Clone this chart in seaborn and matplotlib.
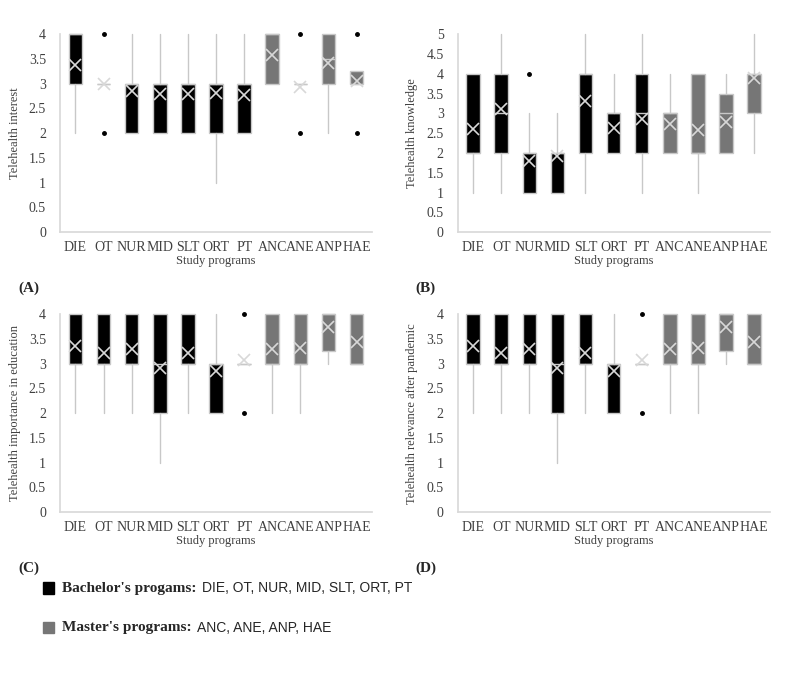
import matplotlib
matplotlib.use("Agg")
import matplotlib.pyplot as plt
import seaborn as sns

sns.set_theme(style="white")
plt.rcParams["font.family"] = "Liberation Serif"

PROGRAMS = ["DIE", "OT", "NUR", "MID", "SLT", "ORT", "PT", "ANC", "ANE", "ANP", "HAE"]
MASTER = ["ANC", "ANE", "ANP", "HAE"]

# (q1, median, q3, whisker low, whisker high, mean, outliers) por programa
INTEREST_Q1 = [3, 3, 2, 2, 2, 2, 2, 3, 3, 3, 3]
INTEREST_MED = [4, 3, 3, 3, 3, 3, 3, 4, 3, 3.5, 3]
INTEREST_Q3 = [4, 3, 3, 3, 3, 3, 3, 4, 3, 4, 3.25]
INTEREST_LO = [2, 3, 2, 2, 2, 1, 2, 3, 3, 2, 3]
INTEREST_HI = [4, 3, 4, 4, 4, 4, 4, 4, 3, 4, 3.25]
INTEREST_MEAN = [3.37, 3.0, 2.86, 2.8, 2.79, 2.81, 2.78, 3.57, 2.93, 3.42, 3.05]
INTEREST_OUT = [[], [2, 4], [], [], [], [], [], [], [2, 4], [], [2, 4]]

KNOW_Q1 = [2, 2, 1, 1, 2, 2, 2, 2, 2, 2, 3]
KNOW_MED = [2, 3, 2, 2, 4, 3, 3, 3, 2, 3, 4]
KNOW_Q3 = [4, 4, 2, 2, 4, 3, 4, 3, 4, 3.5, 4]
KNOW_LO = [1, 1, 1, 1, 1, 2, 1, 2, 1, 2, 2]
KNOW_HI = [4, 5, 3, 3, 5, 4, 5, 4, 4, 4, 5]
KNOW_MEAN = [2.6, 3.1, 1.8, 1.92, 3.3, 2.62, 2.87, 2.72, 2.57, 2.77, 3.9]
KNOW_OUT = [[], [], [4], [], [], [], [], [], [], [], []]

EDU_Q1 = [3, 3, 3, 2, 3, 2, 3, 3, 3, 3.25, 3]
EDU_MED = [3, 3, 3, 3, 3, 3, 3, 3, 3, 4, 3]
EDU_Q3 = [4, 4, 4, 4, 4, 3, 3, 4, 4, 4, 4]
EDU_LO = [2, 2, 2, 1, 2, 2, 3, 2, 2, 3, 3]
EDU_HI = [4, 4, 4, 4, 4, 4, 3, 4, 4, 4, 4]
EDU_MEAN = [3.35, 3.22, 3.29, 2.91, 3.21, 2.86, 3.07, 3.29, 3.32, 3.75, 3.43]
EDU_OUT = [[], [], [], [], [], [], [2, 4], [], [], [], []]

REL_Q1 = [3, 3, 3, 2, 3, 2, 3, 3, 3, 3.25, 3]
REL_MED = [3, 3, 3, 3, 3, 3, 3, 3, 3, 4, 3]
REL_Q3 = [4, 4, 4, 4, 4, 3, 3, 4, 4, 4, 4]
REL_LO = [2, 2, 2, 1, 2, 2, 3, 2, 2, 3, 3]
REL_HI = [4, 4, 4, 4, 4, 4, 3, 4, 4, 4, 4]
REL_MEAN = [3.35, 3.22, 3.29, 2.91, 3.21, 2.86, 3.07, 3.29, 3.32, 3.75, 3.43]
REL_OUT = [[], [], [], [], [], [], [2, 4], [], [], [], []]

GRID = "#c8c8c8"


def painel(ax, q1, med, q3, lo, hi, mean, out, ylabel, ymax, letra):
    stats = []
    for i, p in enumerate(PROGRAMS):
        stats.append(dict(label=p, q1=q1[i], med=med[i], q3=q3[i],
                          whislo=lo[i], whishi=hi[i], mean=mean[i], fliers=out[i]))
    res = ax.bxp(stats, widths=0.48, patch_artist=True, showmeans=True,
                 showcaps=False,
                 boxprops=dict(edgecolor=GRID, linewidth=1),
                 whiskerprops=dict(color=GRID, linewidth=1),
                 medianprops=dict(color=GRID, linewidth=1),
                 meanprops=dict(marker="x", markeredgecolor="#d8d8d8", markersize=8, markeredgewidth=1.2),
                 flierprops=dict(marker="o", markerfacecolor="black", markeredgecolor="black", markersize=2.5))
    for box, p in zip(res["boxes"], PROGRAMS):
        box.set_facecolor("#767676" if p in MASTER else "black")
    for art in res["boxes"] + res["whiskers"] + res["medians"] + res["fliers"] + res["means"]:
        art.set_clip_on(False)
    ax.set_xlim(0.45, 11.55)
    ax.set_ylim(0, ymax)
    ax.set_yticks([i * 0.5 for i in range(int(ymax * 2) + 1)])
    ax.set_yticklabels([f"{i * 0.5:g}" for i in range(int(ymax * 2) + 1)])
    for s in ["top", "right"]:
        ax.spines[s].set_visible(False)
    for s in ["left", "bottom"]:
        ax.spines[s].set_color("#d9d9d9")
    ax.tick_params(axis="both", colors="#404040", labelsize=10, length=0)
    ax.tick_params(axis="y", pad=10)
    ax.tick_params(axis="x", pad=6)
    ax.set_ylabel(ylabel, fontsize=9, color="#404040", labelpad=6)
    ax.set_xlabel("Study programs", fontsize=9, color="#404040", labelpad=1)
    ax.text(-0.135, -0.3, letra, transform=ax.transAxes, fontsize=11, fontweight="bold")


fig = plt.figure(figsize=(8, 6.83), dpi=100)
axA = fig.add_axes([0.075, 0.66, 0.39, 0.29])
axB = fig.add_axes([0.572, 0.66, 0.39, 0.29])
axC = fig.add_axes([0.075, 0.25, 0.39, 0.29])
axD = fig.add_axes([0.572, 0.25, 0.39, 0.29])

painel(axA, INTEREST_Q1, INTEREST_MED, INTEREST_Q3, INTEREST_LO, INTEREST_HI, INTEREST_MEAN, INTEREST_OUT,
       "Telehealth interest", 4, "(A)")
painel(axB, KNOW_Q1, KNOW_MED, KNOW_Q3, KNOW_LO, KNOW_HI, KNOW_MEAN, KNOW_OUT,
       "Telehealth knowledge", 5, "(B)")
painel(axC, EDU_Q1, EDU_MED, EDU_Q3, EDU_LO, EDU_HI, EDU_MEAN, EDU_OUT,
       "Telehealth importance in education", 4, "(C)")
painel(axD, REL_Q1, REL_MED, REL_Q3, REL_LO, REL_HI, REL_MEAN, REL_OUT,
       "Telehealth relevance after pandemic", 4, "(D)")

# legenda
fig.patches.append(plt.Rectangle((0.054, 0.131), 0.014, 0.017, color="black", transform=fig.transFigure))
fig.patches.append(plt.Rectangle((0.054, 0.073), 0.014, 0.017, color="#767676", transform=fig.transFigure))
renderer = fig.canvas.get_renderer()
for y, bold, resto in [(0.139, "Bachelor's progams:", "DIE, OT, NUR, MID, SLT, ORT, PT"),
                       (0.081, "Master's programs:", "ANC, ANE, ANP, HAE")]:
    t = fig.text(0.078, y, bold, fontsize=11, fontweight="bold", va="center")
    bb = t.get_window_extent(renderer).transformed(fig.transFigure.inverted())
    fig.text(bb.x1 + 0.006, y, resto, fontsize=10, va="center", family="Liberation Sans")

fig.savefig("out.png", dpi=100)
